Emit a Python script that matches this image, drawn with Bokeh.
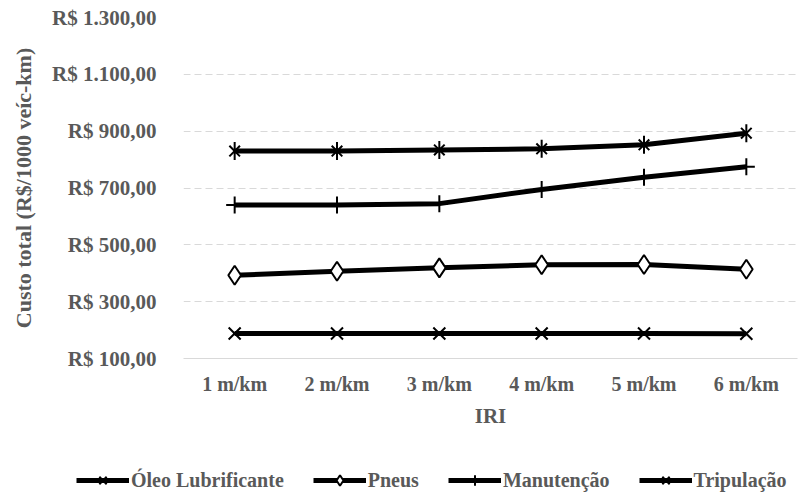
import math
from bokeh.plotting import figure
from bokeh.layouts import column
from bokeh.models import FactorRange, Range1d, FixedTicker, Legend, LegendItem
from bokeh.embed import file_html
from bokeh.resources import INLINE

categories = ["1 m/km", "2 m/km", "3 m/km", "4 m/km", "5 m/km", "6 m/km"]
oleo = [188, 188, 188, 188, 188, 187]
pneus = [393, 407, 419, 430, 431, 414]
manutencao = [640, 640, 645, 695, 738, 775]
tripulacao = [830, 830, 834, 838, 852, 893]
series_names = ["Óleo Lubrificante", "Pneus", "Manutenção", "Tripulação"]
y_ticks = [100, 300, 500, 700, 900, 1100, 1300]
y_tick_labels = ["R$ 100,00", "R$ 300,00", "R$ 500,00", "R$ 700,00",
                 "R$ 900,00", "R$ 1.100,00", "R$ 1.300,00"]

GRAY = "#595959"
FONT = "Liberation Serif"
LW = 5

x_range = FactorRange(*categories, range_padding=0)
y_range = Range1d(100, 1300)

p = figure(width=811, height=440, x_range=x_range, y_range=y_range,
           output_backend="svg", toolbar_location=None, frame_align=False,
           min_border_left=183, min_border_right=14, min_border_top=17, min_border_bottom=82)
p.outline_line_color = None

p.yaxis.ticker = FixedTicker(ticks=y_ticks)
p.yaxis.major_label_overrides = {t: l for t, l in zip(y_ticks, y_tick_labels)}
p.yaxis.axis_line_color = None
p.yaxis.major_tick_line_color = None
p.yaxis.minor_tick_line_color = None
p.yaxis.major_label_standoff = 21
p.yaxis.axis_label = "Custo total (R$/1000 veíc-km)"
p.yaxis.axis_label_standoff = 13
for ax in (p.xaxis, p.yaxis):
    ax.major_label_text_font = FONT
    ax.major_label_text_font_style = "bold"
    ax.major_label_text_color = GRAY
    ax.major_label_text_font_size = "20px"
    ax.axis_label_text_font = FONT
    ax.axis_label_text_font_style = "bold"
    ax.axis_label_text_color = GRAY
    ax.axis_label_text_font_size = "21px"
p.yaxis.major_label_text_font_size = "21px"
p.yaxis.axis_label_text_font_size = "22px"
p.xaxis.axis_line_color = "#d9d9d9"
p.xaxis.axis_line_width = 1
p.xaxis.major_tick_line_color = None
p.xaxis.minor_tick_line_color = None
p.xaxis.major_label_standoff = 8
p.xaxis.axis_label = "IRI"
p.xaxis.axis_label_standoff = 6

p.xgrid.grid_line_color = None
p.ygrid.grid_line_color = "#d9d9d9"
p.ygrid.grid_line_dash = "7 4"
p.ygrid.grid_line_width = 1


def draw(fig, visible=True):
    """Draw the four series on fig; return the renderers of each series."""
    kw = dict(visible=visible)
    l1 = fig.line(categories, oleo, line_color="black", line_width=LW, **kw)
    l2 = fig.line(categories, pneus, line_color="black", line_width=LW, **kw)
    l3 = fig.line(categories, manutencao, line_color="black", line_width=LW, **kw)
    l4 = fig.line(categories, tripulacao, line_color="black", line_width=LW, **kw)
    s1 = fig.scatter(categories, oleo, marker="x", size=17, line_color="black",
                     line_width=2, **kw)
    s2 = fig.scatter(categories, pneus, marker="diamond", size=19, line_color="black",
                     fill_color="white", line_width=2, **kw)
    s3 = fig.scatter(categories, manutencao, marker="cross", size=17, line_color="black",
                     line_width=2, **kw)
    s4a = fig.scatter(categories, tripulacao, marker="x", size=15, line_color="black",
                      line_width=2, **kw)
    s4b = fig.scatter(categories, tripulacao, marker="dash", size=18, angle=math.pi / 2,
                      line_color="black", line_width=2, **kw)
    return [[l1, s1], [l2, s2], [l3, s3], [l4, s4a, s4b]]


draw(p)

# legend strip below the chart (shares ranges; its own copies of the series are hidden)
lg = figure(width=811, height=54, x_range=x_range, y_range=y_range,
            output_backend="svg", toolbar_location=None, frame_align=False,
            x_axis_location=None, y_axis_location=None, min_border=0)
lg.outline_line_color = None
lg.xgrid.grid_line_color = None
lg.ygrid.grid_line_color = None
legend_renderers = draw(lg, visible=False)

legend = Legend(items=[LegendItem(label=n, renderers=r)
                       for n, r in zip(series_names, legend_renderers)],
                orientation="horizontal", location=(76, 1))
legend.label_text_font = FONT
legend.label_text_font_style = "bold"
legend.label_text_font_size = "20px"
legend.label_text_color = GRAY
legend.glyph_width = 53
legend.glyph_height = 26
legend.label_standoff = 2
legend.spacing = 29
legend.padding = 0
legend.margin = 0
legend.border_line_alpha = 0
legend.background_fill_alpha = 0
lg.add_layout(legend)

open("out.html", "w").write(file_html(column(p, lg), INLINE))
